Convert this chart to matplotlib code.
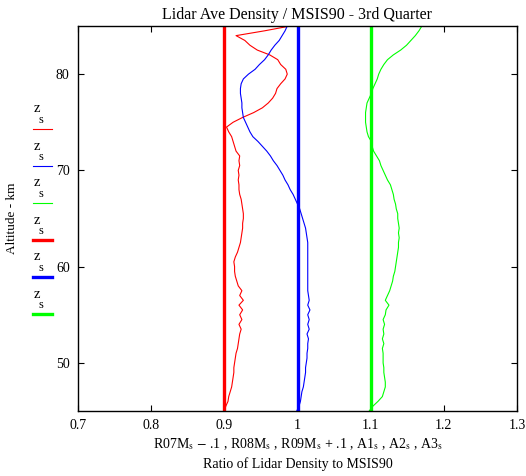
import numpy as np
import matplotlib
matplotlib.use("Agg")
import matplotlib.pyplot as plt
from matplotlib.lines import Line2D

plt.rcParams['font.family'] = ['Liberation Serif', 'DejaVu Serif']
plt.rcParams['mathtext.fontset'] = 'stix'

# Altitude grid (km)
altitude = np.arange(45.0, 85.01, 0.5)

# Lidar / MSIS90 ratios (R07M and R09M stored unshifted)
r07m = np.array([
    0.900, 0.902, 0.905, 0.906, 0.908, 0.910, 0.911, 0.912, 0.913, 0.913,
    0.914, 0.915, 0.916, 0.918, 0.919, 0.920, 0.921, 0.923, 0.920, 0.924,
    0.921, 0.925, 0.920, 0.926, 0.921, 0.924, 0.919, 0.917, 0.915, 0.914,
    0.914, 0.913, 0.915, 0.918, 0.920, 0.922, 0.923, 0.924, 0.925, 0.925,
    0.926, 0.926, 0.925, 0.924, 0.923, 0.921, 0.920, 0.920, 0.919, 0.920,
    0.919, 0.921, 0.920, 0.921, 0.916, 0.914, 0.912, 0.910, 0.906, 0.903,
    0.912, 0.925, 0.940, 0.952, 0.960, 0.966, 0.970, 0.972, 0.977, 0.983,
    0.986, 0.984, 0.977, 0.973, 0.962, 0.945, 0.935, 0.928, 0.916, 0.955,
    0.990]) + 0.1

r08m = np.array([
    0.999, 1.002, 1.004, 1.005, 1.006, 1.008, 1.009, 1.010, 1.011, 1.011,
    1.012, 1.013, 1.013, 1.014, 1.014, 1.015, 1.013, 1.016, 1.014, 1.016,
    1.014, 1.017, 1.014, 1.016, 1.015, 1.014, 1.014, 1.014, 1.014, 1.014,
    1.014, 1.014, 1.014, 1.014, 1.014, 1.014, 1.013, 1.012, 1.011, 1.009,
    1.007, 1.005, 1.003, 1.000, 0.997, 0.994, 0.990, 0.987, 0.983, 0.980,
    0.976, 0.972, 0.967, 0.963, 0.958, 0.952, 0.946, 0.939, 0.935, 0.932,
    0.929, 0.926, 0.925, 0.924, 0.924, 0.923, 0.922, 0.922, 0.923, 0.926,
    0.933, 0.942, 0.948, 0.955, 0.960, 0.964, 0.969, 0.975, 0.979, 0.983,
    0.986])

r09m = np.array([
    1.098, 1.103, 1.110, 1.116, 1.118, 1.120, 1.120, 1.119, 1.118, 1.118,
    1.117, 1.117, 1.117, 1.116, 1.118, 1.116, 1.118, 1.117, 1.119, 1.117,
    1.120, 1.121, 1.125, 1.120, 1.123, 1.126, 1.128, 1.130, 1.131, 1.133,
    1.134, 1.135, 1.136, 1.137, 1.138, 1.138, 1.139, 1.138, 1.139, 1.138,
    1.137, 1.137, 1.135, 1.134, 1.132, 1.131, 1.129, 1.127, 1.123, 1.120,
    1.117, 1.114, 1.112, 1.108, 1.104, 1.102, 1.101, 1.097, 1.095, 1.094,
    1.093, 1.093, 1.093, 1.094, 1.095, 1.098, 1.101, 1.103, 1.106, 1.109,
    1.111, 1.114, 1.118, 1.123, 1.131, 1.141, 1.149, 1.155, 1.161, 1.166,
    1.170]) - 0.1

# Reference (constant) lines
a1, a2, a3 = 0.9, 1.0, 1.1

x_ticks = [0.7, 0.8, 0.9, 1.0, 1.1, 1.2, 1.3]
x_tick_labels = ['0.7', '0.8', '0.9', '1', '1.1', '1.2', '1.3']
y_ticks = [50, 60, 70, 80]

RED, BLUE, GREEN = '#ff0000', '#0000ff', '#00ff00'

fig = plt.figure(figsize=(5.26, 4.76), dpi=100)
ax = fig.add_axes([78/526, 65/476, (517-78)/526, (411-26)/476])

ax.plot(r07m - 0.1, altitude, color=RED, lw=0.8)
ax.plot(r08m, altitude, color=BLUE, lw=0.8)
ax.plot(r09m + 0.1, altitude, color=GREEN, lw=0.8)
ax.axvline(a1, color=RED, lw=2.4)
ax.axvline(a2, color=BLUE, lw=2.4)
ax.axvline(a3, color=GREEN, lw=2.4)

ax.set_xlim(0.7, 1.3)
ax.set_ylim(45, 85)
ax.set_xticks(x_ticks)
ax.set_xticklabels(x_tick_labels)
ax.set_yticks(y_ticks)
ax.tick_params(direction='in', length=4, labelsize=10, top=True, right=True,
               pad=6, width=0.8)
for s in ax.spines.values():
    s.set_linewidth(1.0)

ax.set_title('Lidar Ave Density / MSIS90 - 3rd Quarter', fontsize=11.5, pad=5)
ax.set_ylabel('Altitude - km', fontsize=9.5, labelpad=27)
ax.set_xlabel(r'R07M$_{\mathrm{s}}$ $-$ .1 , R08M$_{\mathrm{s}}$ , R09M$_{\mathrm{s}}$ + .1 , A1$_{\mathrm{s}}$ , A2$_{\mathrm{s}}$ , A3$_{\mathrm{s}}$'
              '\nRatio of Lidar Density to MSIS90', fontsize=10, labelpad=3,
              linespacing=1.5)

# Custom legend on the left
legend_items = [(RED, 0.8), (BLUE, 0.8), (GREEN, 0.8), (RED, 2.4), (BLUE, 2.4), (GREEN, 2.4)]
W, H = 526, 476
for i, (c, lw) in enumerate(legend_items):
    yl = 129 + i * 37
    fig.add_artist(Line2D([33/W, 52/W], [1 - yl/H, 1 - yl/H], color=c, lw=lw))
    fig.text(37/W, 1 - (yl - 20)/H, 'z', fontsize=10.5, ha='center', va='center')
    fig.text(41/W, 1 - (yl - 9)/H, 's', fontsize=9, ha='center', va='center')

fig.savefig('out.png', dpi=100)
